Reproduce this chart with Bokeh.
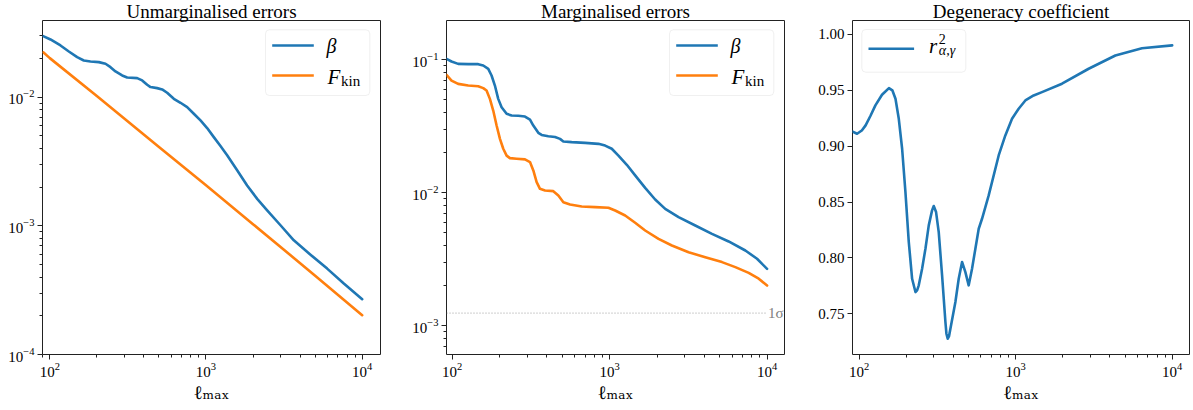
from bokeh.plotting import figure
from bokeh.layouts import row
from bokeh.models import (Range1d, FixedTicker, LogTickFormatter, PrintfTickFormatter,
                          Label, BoxAnnotation, Arrow)
from bokeh.embed import file_html
from bokeh.resources import INLINE

# ---------------- data ----------------
# Panel 1: unmarginalised errors
ell_unmarg_beta = [90.7, 101, 117.1, 132.4, 149.7, 165.1, 182.2, 206.0, 227.3, 244.7, 263.4,
                   290.6, 312.8, 362.5, 390.3, 420.1, 441.3, 486.7, 524.1, 564.0, 622.4,
                   686.9, 757.6, 835.7, 922.2, 1017, 1122, 1238, 1366, 1583, 1834, 2127,
                   2464, 2999, 3650, 4667, 5967, 7627, 10000]
unmarg_beta = [0.02977, 0.02806, 0.02520, 0.02263, 0.02045, 0.01927, 0.01893, 0.01871,
               0.01816, 0.01710, 0.01583, 0.01474, 0.01422, 0.01405, 0.01348, 0.01247,
               0.01197, 0.01175, 0.01148, 0.01081, 0.00971, 0.00904, 0.00837, 0.00743,
               0.00659, 0.00575, 0.00489, 0.00417, 0.00353, 0.00270, 0.00206, 0.00162,
               0.00132, 0.00101, 0.000772, 0.000597, 0.000465, 0.000356, 0.000269]
ell_unmarg_fkin = [90.8, 100, 200, 500, 1000, 2000, 5000, 10000]
unmarg_fkin = [0.0223, 0.0201, 0.0102, 0.0041, 0.00207, 0.00103, 0.00041, 0.000202]

# Panel 2: marginalised errors
ell_marg_beta = [92.1, 99.1, 109.2, 126.5, 146.4, 157.6, 169.6, 178.0, 186.9, 196.2, 206.1,
                 221.8, 238.6, 263.0, 290.1, 312.2, 327.8, 352.6, 370.2, 408.2, 450.2,
                 484.3, 508.5, 574.6, 698.6, 849.2, 936.3, 1032, 1138, 1286, 1453, 1682,
                 1947, 2255, 2741, 3499, 4467, 5700, 7278, 8634, 10000]
marg_beta = [0.1017, 0.0971, 0.0932, 0.0927, 0.0927, 0.0906, 0.0855, 0.0762, 0.0640, 0.0508,
             0.0440, 0.0392, 0.0381, 0.0379, 0.0374, 0.0355, 0.0320, 0.0282, 0.0272, 0.0266,
             0.0262, 0.0254, 0.0243, 0.0240, 0.0237, 0.0233, 0.0226, 0.0214, 0.0190, 0.0162,
             0.0135, 0.01087, 0.00888, 0.00755, 0.00654, 0.00566, 0.00490, 0.00429,
             0.00367, 0.00318, 0.00267]
ell_marg_fkin = [92.1, 99.1, 109.2, 126.5, 146.4, 157.6, 165.4, 173.7, 182.4, 191.6, 201.2,
                 211.2, 221.8, 232.8, 256.7, 290.1, 312.2, 327.8, 344.1, 361.3, 388.9,
                 439.1, 472.6, 508.5, 560.8, 665.3, 808.8, 983.1, 1084, 1255, 1453, 1682,
                 2045, 2486, 3174, 4050, 5170, 6286, 7641, 8849, 10000]
marg_fkin = [0.0771, 0.0698, 0.0659, 0.0640, 0.0633, 0.0612, 0.0587, 0.0508, 0.0415, 0.0320,
             0.0254, 0.0214, 0.0190, 0.0182, 0.0180, 0.0178, 0.0170, 0.0147, 0.0120, 0.01068,
             0.01038, 0.01026, 0.00952, 0.00848, 0.00814, 0.00787, 0.00778, 0.00769,
             0.00734, 0.00673, 0.00593, 0.00519, 0.00449, 0.00400, 0.00356, 0.00327,
             0.00300, 0.00275, 0.00249, 0.00225, 0.00200]
sigma_level = 1.24e-3
sigma_x = [92.1, 10000]

# Panel 3: degeneracy coefficient
ell_deg = [90.2, 97, 104, 110, 118, 127, 140, 155, 163, 170.7, 179.2, 188.2, 197.6, 207.6,
           218.0, 229.0, 234.6, 240.4, 252.5, 265.2, 278.5, 292.4, 299.7, 310.1, 322.5,
           338.8, 355.8, 361.1, 368.1, 375.4, 382.9, 412.1, 432.7, 454.5, 477.3, 501.2,
           526.4, 552.9, 580.7, 609.7, 672.5, 779, 859, 948, 1045, 1153, 1303, 1473, 1977,
           2926, 4334, 6411, 10000]
r2_deg = [0.9132, 0.9111, 0.9140, 0.9186, 0.927, 0.9365, 0.9460, 0.9520, 0.9500, 0.9424,
          0.9245, 0.8977, 0.8589, 0.8141, 0.7813, 0.7694, 0.7709, 0.7754, 0.7903, 0.8082,
          0.8291, 0.8425, 0.8464, 0.8410, 0.8231, 0.7843, 0.7426, 0.7321, 0.7276, 0.7300,
          0.7366, 0.7605, 0.7813, 0.7963, 0.7873, 0.7754, 0.7903, 0.8082, 0.8261, 0.8350,
          0.8559, 0.8917, 0.9096, 0.9246, 0.9335, 0.9409, 0.9454, 0.9484, 0.9559, 0.9693,
          0.9812, 0.9877, 0.9902]

x_major_ticks = [1e2, 1e3, 1e4]
titles = ["Unmarginalised errors", "Marginalised errors", "Degeneracy coefficient"]
x_label = "ℓₘₐₓ"
# ------------------------------------------------------------------

SERIF = "Liberation Serif"
BLUE = "#1f77b4"
ORANGE = "#ff7f0e"
LW = 2.6
FH = 334
TOP = 20


def minors(exps, lo, hi):
    out = []
    for e in exps:
        for m in range(2, 10):
            v = m * 10.0 ** e
            if lo <= v <= hi:
                out.append(v)
    return out


def make_fig(xr, yr, ytype, fw, left, right, title):
    p = figure(x_axis_type="log", y_axis_type=ytype,
               x_range=Range1d(*xr), y_range=Range1d(*yr),
               frame_width=fw, frame_height=FH,
               min_border_left=left, min_border_right=right,
               min_border_top=TOP, min_border_bottom=56,
               output_backend="svg", toolbar_location=None, title=title)
    p.title.text_font = SERIF
    p.title.text_font_size = "19px"
    p.title.text_font_style = "normal"
    p.title.text_color = "black"
    p.title.align = "center"
    p.title.vertical_align = "top"
    try:
        p.title.standoff = -6
    except Exception:
        p.title.standoff = 0
    p.grid.visible = False
    p.outline_line_color = "#222222"
    p.outline_line_width = 1
    p.background_fill_color = "white"
    p.border_fill_color = "white"
    for ax in (p.xaxis[0], p.yaxis[0]):
        ax.axis_line_color = None
        ax.major_tick_in = 0
        ax.major_tick_out = 5
        ax.minor_tick_in = 0
        ax.minor_tick_out = 3
        ax.major_tick_line_color = "#222222"
        ax.minor_tick_line_color = "#222222"
        ax.major_label_text_font = SERIF
        ax.major_label_text_font_size = "15px"
        ax.major_label_text_color = "black"
        ax.major_label_standoff = 3
    xa = p.xaxis[0]
    xa.ticker = FixedTicker(ticks=x_major_ticks, minor_ticks=minors([1, 2, 3], xr[0], xr[1]))
    xa.formatter = LogTickFormatter()
    xa.axis_label = x_label
    xa.axis_label_text_font = "DejaVu Serif"
    xa.axis_label_text_font_size = "19px"
    xa.axis_label_text_font_style = "normal"
    xa.axis_label_text_color = "black"
    xa.axis_label_standoff = 1
    return p


def curve(p, xs, ys, color):
    p.line(xs, ys, line_color=color, line_width=LW, line_join="round", line_cap="round")


def legend_box(p, l, r, b, t):
    p.add_layout(BoxAnnotation(left=l, right=r, bottom=b, top=t,
                               left_units="screen", right_units="screen",
                               bottom_units="screen", top_units="screen",
                               fill_color="white", fill_alpha=0.8,
                               line_color="#cccccc", line_width=1, border_radius=4))


def swatch(p, x0, x1, y, color):
    p.add_layout(Arrow(end=None, x_start=x0, y_start=y, x_end=x1, y_end=y,
                       start_units="screen", end_units="screen",
                       line_color=color, line_width=LW))


def txt(p, x, y, text, size, italic=False):
    p.add_layout(Label(x=x, y=y, x_units="screen", y_units="screen", text=text,
                       text_font=SERIF, text_font_size=size,
                       text_font_style="italic" if italic else "normal",
                       text_baseline="middle", text_color="black"))


def two_entry_legend(p):
    legend_box(p, 223, 327.3, 259, 324.7)
    swatch(p, 229.7, 271.3, 309, BLUE)
    swatch(p, 229.7, 271.3, 279, ORANGE)
    txt(p, 284, 308.5, "β", "20px", italic=True)
    txt(p, 285, 277.1, "F", "21px", italic=True)
    txt(p, 298.5, 273.1, "kin", "15px")


# ---------------- Panel 1 ----------------
xr1 = (89.8, 13100)
yr1 = (1e-4, 0.0394)
p1 = make_fig(xr1, yr1, "log", 338, 42, 16, titles[0])
p1.yaxis[0].ticker = FixedTicker(ticks=[1e-4, 1e-3, 1e-2],
                                 minor_ticks=minors([-4, -3, -2], yr1[0], yr1[1]))
p1.yaxis[0].formatter = LogTickFormatter()
curve(p1, ell_unmarg_beta, unmarg_beta, BLUE)
curve(p1, ell_unmarg_fkin, unmarg_fkin, ORANGE)
two_entry_legend(p1)

# ---------------- Panel 2 ----------------
xr2 = (92.1, 12900)
yr2 = (6.05e-4, 0.1976)
p2 = make_fig(xr2, yr2, "log", 338, 50, 14, titles[1])
p2.yaxis[0].ticker = FixedTicker(ticks=[1e-3, 1e-2, 1e-1],
                                 minor_ticks=minors([-4, -3, -2, -1], yr2[0], yr2[1]))
p2.yaxis[0].formatter = LogTickFormatter()
p2.line(sigma_x, [sigma_level, sigma_level], line_color="#888888", line_width=0.8,
        line_dash="1 2")
curve(p2, ell_marg_beta, marg_beta, BLUE)
curve(p2, ell_marg_fkin, marg_fkin, ORANGE)
p2.add_layout(Label(x=sigma_x[1], y=sigma_level, x_offset=1, text="1σ",
                    text_font=SERIF, text_font_size="15px", text_color="#808080",
                    text_baseline="middle"))
two_entry_legend(p2)

# ---------------- Panel 3 ----------------
xr3 = (90.7, 12900)
yr3 = (0.7135, 1.0125)
p3 = make_fig(xr3, yr3, "linear", 337, 54, 4, titles[2])
p3.yaxis[0].ticker = FixedTicker(ticks=[0.75, 0.80, 0.85, 0.90, 0.95, 1.00], minor_ticks=[])
p3.yaxis[0].formatter = PrintfTickFormatter(format="%.2f")
curve(p3, ell_deg, r2_deg, BLUE)
legend_box(p3, 9.3, 113.3, 282.3, 325)
swatch(p3, 16, 61.6, 305.7, BLUE)
txt(p3, 76.5, 308.8, "r", "21px", italic=True)
txt(p3, 86.3, 315.4, "2", "14px")
txt(p3, 86.3, 304.4, "α,γ", "14px", italic=True)

layout = row(p1, p2, p3)
open("out.html", "w").write(file_html(layout, INLINE))
